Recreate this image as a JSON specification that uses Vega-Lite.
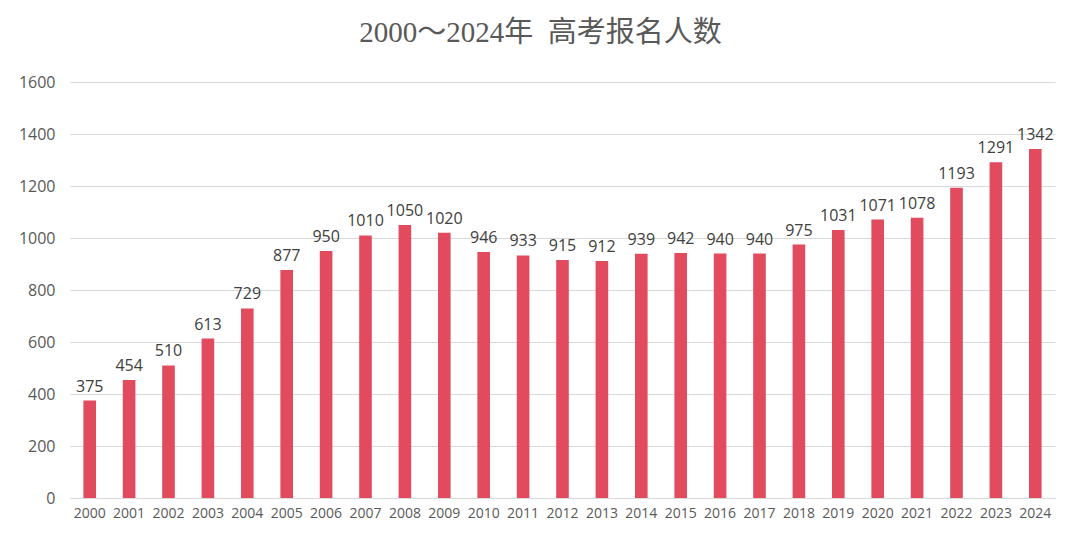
{
  "$schema": "https://vega.github.io/schema/vega-lite/v6.json",
  "autosize": {"type": "none"},
  "padding": {"left": 70, "top": 82, "right": 25, "bottom": 46},
  "width": 985,
  "height": 416,
  "background": "white",
  "title": {
    "text": "2000～2024年\u00a0\u00a0高考报名人数",
    "font": "Liberation Serif, Noto Sans CJK SC",
    "fontSize": 29,
    "fontWeight": "normal",
    "color": "#595959",
    "anchor": "middle",
    "offset": 26,
    "dx": -22
  },
  "data": {
    "values": [
      {"year": "2000", "value": 375},
      {"year": "2001", "value": 454},
      {"year": "2002", "value": 510},
      {"year": "2003", "value": 613},
      {"year": "2004", "value": 729},
      {"year": "2005", "value": 877},
      {"year": "2006", "value": 950},
      {"year": "2007", "value": 1010},
      {"year": "2008", "value": 1050},
      {"year": "2009", "value": 1020},
      {"year": "2010", "value": 946},
      {"year": "2011", "value": 933},
      {"year": "2012", "value": 915},
      {"year": "2013", "value": 912},
      {"year": "2014", "value": 939},
      {"year": "2015", "value": 942},
      {"year": "2016", "value": 940},
      {"year": "2017", "value": 940},
      {"year": "2018", "value": 975},
      {"year": "2019", "value": 1031},
      {"year": "2020", "value": 1071},
      {"year": "2021", "value": 1078},
      {"year": "2022", "value": 1193},
      {"year": "2023", "value": 1291},
      {"year": "2024", "value": 1342}
    ]
  },
  "encoding": {
    "x": {
      "field": "year",
      "type": "ordinal",
      "sort": null,
      "scale": {"paddingInner": 0.68, "paddingOuter": 0.34},
      "axis": {
        "title": null,
        "labelAngle": 0,
        "ticks": false,
        "domain": true,
        "domainColor": "#d9d9d9",
        "labelFont": "Open Sans",
        "labelFontSize": 14,
        "labelColor": "#595959",
        "labelPadding": 8
      }
    },
    "y": {
      "field": "value",
      "type": "quantitative",
      "scale": {"domain": [0, 1600]},
      "axis": {
        "title": null,
        "values": [0, 200, 400, 600, 800, 1000, 1200, 1400, 1600],
        "format": "d",
        "ticks": false,
        "domain": false,
        "grid": true,
        "gridColor": "#d9d9d9",
        "labelFont": "Open Sans",
        "labelFontSize": 16,
        "labelColor": "#595959",
        "labelPadding": 15
      }
    }
  },
  "layer": [
    {
      "mark": {"type": "bar", "color": "#E24A5E"}
    },
    {
      "mark": {
        "type": "text",
        "baseline": "bottom",
        "dy": -6,
        "font": "Open Sans",
        "fontSize": 16,
        "color": "#404040"
      },
      "encoding": {"text": {"field": "value", "type": "quantitative", "format": "d"}}
    }
  ],
  "config": {"view": {"stroke": null}}
}
